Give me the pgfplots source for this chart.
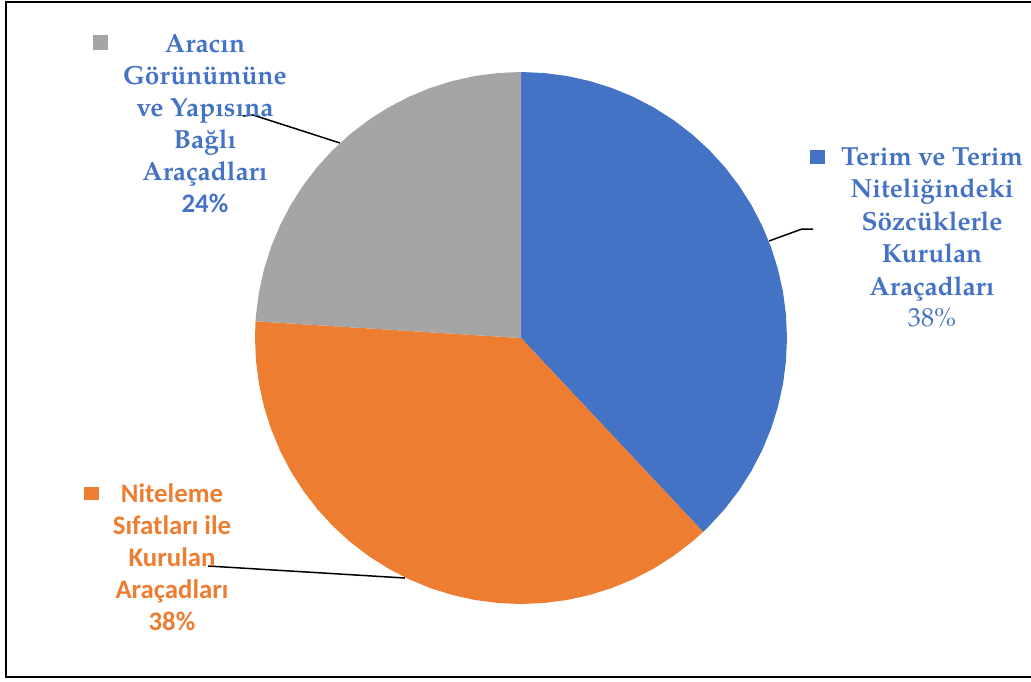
\documentclass[border=0pt]{standalone}
\usepackage{fontspec}
\setmainfont{TeX Gyre Pagella}
\newfontfamily\calibri{Carlito}
\usepackage{pgfplots}
\pgfplotsset{compat=1.18}
\usepgfplotslibrary{polar}

\definecolor{sliceBlue}{HTML}{4472C4}
\definecolor{sliceOrange}{HTML}{ED7D31}
\definecolor{sliceGrey}{HTML}{A5A5A5}
\newcommand\lbl{\fontsize{13.1pt}{16pt}\selectfont}
\newcommand\lblsans{\fontsize{13.4pt}{16pt}\selectfont\calibri}

\begin{document}
\begin{tikzpicture}

% page frame, in pixel units of the reference (y grows downwards)
\begin{axis}[
  name = main,
  scale only axis,
  width = 515.5pt, height = 340.5pt,
  xmin = 0, xmax = 1031,
  ymin = 0, ymax = 681,
  y dir = reverse,
  hide axis,
  clip = false,
]
\coordinate (pc) at (axis cs:521,338);
\coordinate (bl) at (axis cs:0,681);
\coordinate (tr) at (axis cs:1031,0);

\draw[line width=1.25pt] (axis cs:1031,2) -- (axis cs:6,2) -- (axis cs:6,677) -- (axis cs:1031,677);

% leader lines
\draw[line width=0.75pt] (axis cs:243,116) -- (axis cs:253,115) -- (axis cs:340,143);
\draw[line width=0.75pt] (axis cs:813,229) -- (axis cs:802,229) -- (axis cs:769,241);
\draw[line width=0.75pt] (axis cs:208,566) -- (axis cs:405,578);

% Aracin ... 24%
\fill[sliceGrey] (axis cs:93,35) rectangle (axis cs:108,50);
\begin{scope}[every node/.style={anchor=base, text=sliceBlue, font=\lbl\bfseries, inner sep=0pt}]
  \node at (axis cs:205,52)  {Aracın};
  \node at (axis cs:205,84)  {Görünümüne};
  \node at (axis cs:205,116) {ve Yapısına};
  \node at (axis cs:205,148) {Bağlı};
  \node at (axis cs:205,180) {Araçadları};
  \node[font=\lblsans\bfseries] at (axis cs:205,212) {24\%};
\end{scope}

% Terim ... 38%
\fill[sliceBlue] (axis cs:810,150) rectangle (axis cs:825,164);
\begin{scope}[every node/.style={anchor=base, text=sliceBlue, font=\lbl\bfseries, inner sep=0pt}]
  \node at (axis cs:932,165) {Terim ve Terim};
  \node at (axis cs:932,197) {Niteliğindeki};
  \node at (axis cs:932,230) {Sözcüklerle};
  \node at (axis cs:932,262) {Kurulan};
  \node at (axis cs:932,295) {Araçadları};
  \node[font=\lbl] at (axis cs:932,326) {38\%};
\end{scope}

% Niteleme ... 38%
\fill[sliceOrange] (axis cs:84,487) rectangle (axis cs:99,500);
\begin{scope}[every node/.style={anchor=base, text=sliceOrange, font=\lblsans\bfseries, inner sep=0pt}]
  \node at (axis cs:172,502) {Niteleme};
  \node at (axis cs:172,534) {Sıfatları ile};
  \node at (axis cs:172,566) {Kurulan};
  \node at (axis cs:172,598) {Araçadları};
  \node at (axis cs:172,630) {38\%};
\end{scope}
\end{axis}

% the pie: 38% / 38% / 24%, clockwise from 12 o'clock
\begin{polaraxis}[
  at = {(pc)}, anchor = origin,
  scale only axis,
  width = 266pt, height = 266pt,
  xmin = 0, xmax = 360,
  ymin = 0, ymax = 1,
  hide axis,
  clip = false,
]
% Terim ve Terim Niteliğindeki Sözcüklerle Kurulan Araçadları: 38%
\addplot[draw=none, fill=sliceBlue] coordinates {
  (0,0) (313.2,1) (315,1) (320,1) (325,1) (330,1) (335,1) (340,1) (345,1)
  (350,1) (355,1) (0,1) (5,1) (10,1) (15,1) (20,1) (25,1) (30,1) (35,1)
  (40,1) (45,1) (50,1) (55,1) (60,1) (65,1) (70,1) (75,1) (80,1) (85,1) (90,1)
} -- cycle;
% Niteleme Sıfatları ile Kurulan Araçadları: 38%
\addplot[draw=none, fill=sliceOrange] coordinates {
  (0,0) (176.4,1) (180,1) (185,1) (190,1) (195,1) (200,1) (205,1) (210,1)
  (215,1) (220,1) (225,1) (230,1) (235,1) (240,1) (245,1) (250,1) (255,1)
  (260,1) (265,1) (270,1) (275,1) (280,1) (285,1) (290,1) (295,1) (300,1)
  (305,1) (310,1) (313.2,1)
} -- cycle;
% Aracın Görünümüne ve Yapısına Bağlı Araçadları: 24%
\addplot[draw=none, fill=sliceGrey] coordinates {
  (0,0) (90,1) (95,1) (100,1) (105,1) (110,1) (115,1) (120,1) (125,1)
  (130,1) (135,1) (140,1) (145,1) (150,1) (155,1) (160,1) (165,1) (170,1)
  (175,1) (176.4,1)
} -- cycle;
\end{polaraxis}

\pgfresetboundingbox
\path[use as bounding box] (bl) rectangle (tr);
\end{tikzpicture}
\end{document}
